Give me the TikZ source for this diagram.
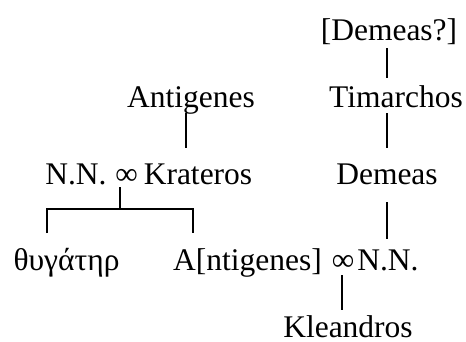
\documentclass[tikz,border=0pt]{standalone}
\usepackage{fontspec}
\setmainfont{Liberation Serif}
\usetikzlibrary{calc}
\begin{document}
\begin{tikzpicture}[x=1pt,y=-1pt,
  person/.style={inner sep=0pt,anchor=base,font=\fontsize{31.5}{36}\selectfont},
  link/.style={line width=2.2pt}]
\useasboundingbox (0,0) rectangle (466,341);
\node[person] (demq) at (389,40) {[Demeas?]};
\node[person] (antig) at (191,107) {Antigenes};
\node[person] (timar) at (396,107) {Timarchos};
\node[person] (nn1) at (76,184) {N.N.};
\node[person] (inf1) at (126.5,184) {∞};
\node[person] (krat) at (198,184) {Krateros};
\node[person] (dem) at (387,184) {Demeas};
\node[person] (thug) at (66.5,270) {θυγάτηρ};
\node[person] (antig2) at (247.5,270) {A[ntigenes]};
\node[person] (inf2) at (343,270) {∞};
\node[person] (nn2) at (388,270) {N.N.};
\node[person,text depth=0pt] (kle) at (348,337.5) {Kleandros};
% connectors
\draw[link] ($(demq.base)+(-2,8)$) -- ++(0,30);
\draw[link] ($(antig.base)+(-5,6)$) -- ++(0,35);
\draw[link] ($(timar.base)+(-9,6)$) -- ++(0,35);
\draw[link] ($(inf1.base)+(-6.5,3)$) coordinate (forktop) -- ++(0,22) coordinate (fork);
\draw[link] ($(thug.base)+(-19.5,-37)$) |- (fork) -| ($(antig2.base)+(-54.5,-37)$);
\draw[link] ($(dem.base)+(0,18)$) -- ++(0,37);
\draw[link] ($(inf2.base)+(-1,5)$) -- ++(0,35);
\end{tikzpicture}
\end{document}
